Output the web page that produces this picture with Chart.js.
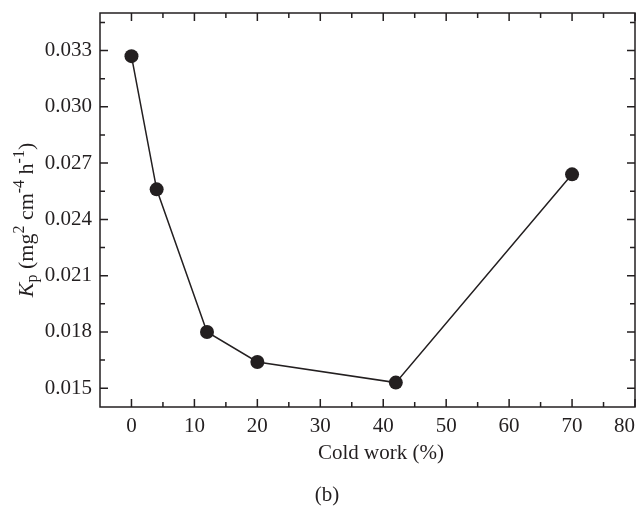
<!DOCTYPE html>
<html>
<head>
<meta charset="utf-8">
<script src="https://cdn.jsdelivr.net/npm/chart.js@4.4.1/dist/chart.umd.min.js"></script>
<style>
  html, body { margin: 0; padding: 0; background: #fff; }
</style>
</head>
<body>
<canvas id="kpChart" width="642" height="506"></canvas>
<script>
// --- DATA ---
const coldWork = [0, 4, 12, 20, 42, 70];
const kpValues = [0.0327, 0.0256, 0.0180, 0.0164, 0.0153, 0.0264];

// --- AXES ---
const xMajor = [0, 10, 20, 30, 40, 50, 60, 70, 80];
const xMinor = [5, 15, 25, 35, 45, 55, 65, 75];
const yMajor = [0.015, 0.018, 0.021, 0.024, 0.027, 0.030, 0.033];
const yMinor = [0.0165, 0.0195, 0.0225, 0.0255, 0.0285, 0.0315, 0.0345];
const xRange = [-5, 80];
const yRange = [0.014, 0.035];

const INK = '#231f20';
const SERIF = '"Liberation Serif", "DejaVu Serif", serif';

// frame + inward ticks on all four sides, plus the titles
const framePlugin = {
    id: 'frame',
    afterDraw(chart) {
        const ctx = chart.ctx;
        const a = chart.chartArea;
        const xs = chart.scales.x, ys = chart.scales.y;
        ctx.save();
        ctx.strokeStyle = INK;
        ctx.lineWidth = 1.5;
        ctx.strokeRect(a.left, a.top, a.right - a.left, a.bottom - a.top);

        ctx.beginPath();
        const xTick = (v, len) => {
            const px = xs.getPixelForValue(v);
            ctx.moveTo(px, a.bottom); ctx.lineTo(px, a.bottom - len);
            ctx.moveTo(px, a.top); ctx.lineTo(px, a.top + len);
        };
        const yTick = (v, len) => {
            const py = ys.getPixelForValue(v);
            ctx.moveTo(a.left, py); ctx.lineTo(a.left + len, py);
            ctx.moveTo(a.right, py); ctx.lineTo(a.right - len, py);
        };
        xMajor.forEach(v => xTick(v, 8));
        xMinor.forEach(v => xTick(v, 5));
        yMajor.forEach(v => yTick(v, 8));
        yMinor.forEach(v => yTick(v, 5));
        ctx.stroke();

        ctx.fillStyle = INK;
        ctx.textAlign = 'center';
        ctx.textBaseline = 'middle';
        ctx.font = `21px ${SERIF}`;
        ctx.fillText('Cold work (%)', a.left + 281, a.bottom + 46);
        ctx.fillText('(b)', a.left + 227, a.bottom + 88);

        // y title: K_p (mg^2 cm^-4 h^-1)
        const parts = [
            { t: 'K', size: 22, style: 'italic' },
            { t: 'p', size: 16, dy: 4 },
            { t: ' (mg', size: 22 },
            { t: '2', size: 16, dy: -9 },
            { t: ' cm', size: 22 },
            { t: '-4', size: 16, dy: -9 },
            { t: ' h', size: 22 },
            { t: '-1', size: 16, dy: -9 },
            { t: ')', size: 22 }
        ];
        let total = 0;
        parts.forEach(p => {
            ctx.font = `${p.style || ''} ${p.size}px ${SERIF}`;
            p.w = ctx.measureText(p.t).width;
            total += p.w;
        });
        ctx.translate(33, (a.top + a.bottom) / 2 + 10);
        ctx.rotate(-Math.PI / 2);
        ctx.textAlign = 'left';
        ctx.textBaseline = 'alphabetic';
        let cx = -total / 2;
        parts.forEach(p => {
            ctx.font = `${p.style || ''} ${p.size}px ${SERIF}`;
            ctx.fillText(p.t, cx, p.dy || 0);
            cx += p.w;
        });
        ctx.restore();
    }
};

new Chart(document.getElementById('kpChart'), {
    type: 'line',
    data: {
        datasets: [{
            data: coldWork.map((x, i) => ({ x: x, y: kpValues[i] })),
            borderColor: INK,
            borderWidth: 1.5,
            backgroundColor: INK,
            pointBackgroundColor: INK,
            pointBorderWidth: 0,
            pointRadius: 7,
            tension: 0,
            fill: false,
            clip: false
        }]
    },
    options: {
        responsive: false,
        animation: false,
        events: [],
        layout: { padding: { left: 0, right: 5, top: 13, bottom: 0 } },
        plugins: { legend: { display: false }, tooltip: { enabled: false } },
        scales: {
            x: {
                type: 'linear',
                min: xRange[0], max: xRange[1],
                grid: { display: false, drawTicks: false },
                border: { display: false },
                // blank tick at the left edge so 'inner' only pulls the last label in
                afterBuildTicks: s => { s.ticks = [xRange[0], ...xMajor].map(v => ({ value: v })); },
                afterFit: s => { s.height = 99; s.paddingLeft = 0; s.paddingRight = 0; },
                ticks: {
                    padding: 7, maxRotation: 0, autoSkip: false, align: 'inner',
                    color: INK, font: { family: SERIF, size: 21 },
                    callback: v => v === xRange[0] ? '' : String(v)
                }
            },
            y: {
                type: 'linear',
                min: yRange[0], max: yRange[1],
                grid: { display: false, drawTicks: false },
                border: { display: false },
                afterBuildTicks: s => { s.ticks = yMajor.map(v => ({ value: v })); },
                afterFit: s => { s.width = 100; s.paddingTop = 0; s.paddingBottom = 0; },
                ticks: {
                    padding: 8, autoSkip: false,
                    color: INK, font: { family: SERIF, size: 21 },
                    callback: v => v.toFixed(3)
                }
            }
        }
    },
    plugins: [framePlugin]
});
</script>
</body>
</html>
